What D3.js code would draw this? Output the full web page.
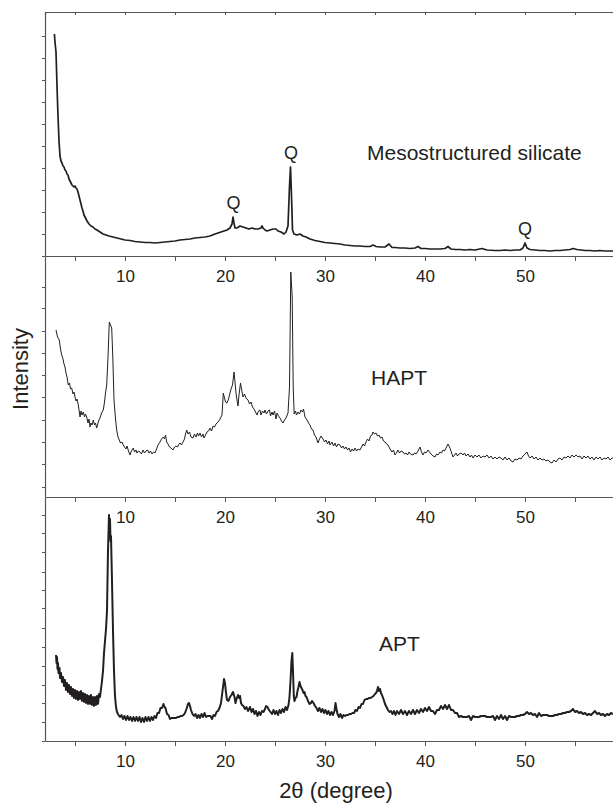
<!DOCTYPE html>
<html>
<head>
<meta charset="utf-8">
<style>
  body { margin: 0; background: #fff; }
  text { font-family: "Liberation Sans", Arial, sans-serif; fill: #231f20; }
</style>
</head>
<body>
<script src="https://d3js.org/d3.v7.min.js"></script>
<script>

// 2theta (deg) vs intensity (a.u.)
var meso = [[2.94,222],[3.0,214],[3.1,204],[3.2,170],[3.3,140],[3.4,115],[3.5,100],[3.6,95],[3.7,93],[3.8,90],[3.9,89],[4.0,86],[4.1,85],[4.2,82],[4.3,81],[4.4,77],[4.5,75],[4.6,73],[4.7,71],[4.8,70],[4.9,69],[5.0,70],[5.1,68],[5.2,67],[5.3,64],[5.4,60],[5.5,56],[5.6,52],[5.7,48],[5.8,45],[5.9,41],[6.0,39],[6.2,35],[6.4,32],[6.6,30],[6.8,29],[7.0,27],[7.2,26],[7.5,24],[7.8,22],[8.1,21],[8.4,20],[8.8,19],[9.2,18],[9.6,17],[10.0,16],[10.5,15.5],[11,14.5],[11.5,14],[12,13.5],[12.5,13.5],[13,13],[13.5,13.5],[14,14],[14.5,14.5],[15,15],[15.5,16],[16,16.5],[16.5,17],[17,18],[17.5,18.5],[18,19],[18.5,20],[19,22],[19.3,23],[19.6,24],[19.9,25],[20.2,26],[20.5,28],[20.7,32],[20.8,39],[20.9,33],[21.0,28],[21.2,28],[21.5,30],[21.8,29],[22.1,28],[22.4,27],[22.7,28],[23.0,27],[23.3,27],[23.6,28],[23.7,30],[23.8,28],[24.0,26],[24.2,25],[24.5,26],[24.8,27],[25.1,27],[25.3,25],[25.6,24],[25.9,22],[26.1,24],[26.3,30],[26.45,70],[26.55,89],[26.65,60],[26.75,26],[26.9,22],[27.2,21],[27.5,22],[27.8,20],[28.1,19],[28.5,17],[29,15.5],[29.5,14.5],[30,13.5],[30.5,13],[31,12.5],[31.5,12],[32,11],[32.5,10.5],[33,10],[33.5,10],[34,9.5],[34.5,9.5],[34.8,11],[35.1,9.5],[35.5,9],[36,9],[36.4,12],[36.7,8.5],[37,8.5],[37.5,8],[38,8],[38.5,7.5],[39,8],[39.3,9.5],[39.6,7.5],[40,7.5],[40.5,7],[41,7],[41.5,7],[42,7.5],[42.3,9.5],[42.6,7],[43,6.5],[43.5,6.5],[44,6],[44.5,6.5],[45,6],[45.7,7.5],[46.2,6],[47,5.5],[47.5,5.5],[48,6],[48.5,5.5],[49,6],[49.5,6],[49.8,8],[50.0,13],[50.2,8],[50.5,6.5],[51,6],[51.5,5.5],[52,5.5],[52.5,5],[53,5.5],[53.5,5.5],[54,6],[54.5,6.5],[54.8,7.5],[55.2,6.5],[55.6,6],[56,5.5],[56.5,5.5],[57,5],[57.5,5.5],[58,5],[58.5,5],[58.8,5]];

var hapt = [[3.1,167],[3.25,160],[3.43,157],[3.55,148],[3.67,142],[3.8,138],[3.9,133],[4.0,130],[4.1,124],[4.2,120],[4.33,112],[4.45,114],[4.55,108],[4.67,109],[4.8,103],[4.9,105],[5.0,100],[5.1,96],[5.2,98],[5.33,92],[5.42,86],[5.5,80],[5.6,86],[5.7,82],[5.83,85],[5.95,80],[6.05,83],[6.17,80],[6.3,74],[6.4,78],[6.5,70],[6.6,74],[6.7,72],[6.83,77],[6.95,72],[7.05,74],[7.17,69],[7.3,74],[7.4,77],[7.5,79],[7.65,84],[7.83,87],[7.95,95],[8.05,104],[8.17,112],[8.3,140],[8.43,175],[8.55,172],[8.67,169],[8.78,140],[8.9,97],[9.05,78],[9.17,67],[9.3,60],[9.43,57],[9.55,54],[9.7,55],[9.83,52],[9.95,50],[10.1,48],[10.2,51],[10.35,46],[10.5,42],[10.6,45],[10.7,47],[10.83,49],[10.95,45],[11.1,47],[11.2,44],[11.35,46],[11.5,45],[11.65,43],[11.8,47],[11.95,44],[12.1,46],[12.25,47],[12.4,44],[12.55,46],[12.7,43],[12.85,45],[13.0,44],[13.15,48],[13.3,52],[13.5,55],[13.65,58],[13.83,60],[13.95,58],[14.05,62],[14.17,55],[14.3,53],[14.45,50],[14.6,49],[14.8,47],[14.95,50],[15.1,51],[15.25,50],[15.4,53],[15.5,54],[15.65,52],[15.8,55],[15.95,58],[16.05,63],[16.17,67],[16.3,63],[16.45,65],[16.6,60],[16.8,59],[16.95,63],[17.1,60],[17.25,64],[17.35,61],[17.5,64],[17.65,60],[17.8,63],[17.9,59],[18.05,62],[18.2,65],[18.35,66],[18.5,69],[18.65,66],[18.8,71],[18.95,70],[19.1,73],[19.3,75],[19.45,77],[19.6,80],[19.7,82],[19.83,104],[19.95,99],[20.05,95],[20.2,94],[20.35,98],[20.5,104],[20.6,108],[20.75,112],[20.9,125],[21.0,115],[21.1,104],[21.2,97],[21.3,91],[21.4,102],[21.55,114],[21.65,108],[21.8,100],[21.95,103],[22.1,99],[22.3,97],[22.45,93],[22.6,95],[22.75,90],[22.9,88],[23.05,85],[23.2,82],[23.35,86],[23.5,87],[23.6,82],[23.75,86],[23.9,84],[24.0,87],[24.15,83],[24.3,86],[24.45,87],[24.55,81],[24.7,85],[24.8,82],[24.95,86],[25.1,78],[25.2,84],[25.35,81],[25.5,79],[25.65,76],[25.8,74],[25.95,77],[26.1,79],[26.3,84],[26.45,110],[26.58,225],[26.72,200],[26.82,110],[26.92,83],[27.05,86],[27.15,82],[27.3,85],[27.45,83],[27.6,87],[27.75,85],[27.85,88],[28.0,80],[28.2,77],[28.35,74],[28.5,72],[28.65,68],[28.8,67],[28.95,62],[29.1,60],[29.3,54],[29.45,58],[29.6,61],[29.8,58],[29.95,55],[30.1,57],[30.25,53],[30.4,56],[30.5,52],[30.7,55],[30.85,51],[31.0,54],[31.15,50],[31.3,53],[31.5,52],[31.65,49],[31.8,51],[31.95,48],[32.1,50],[32.25,47],[32.4,49],[32.55,45],[32.7,48],[32.85,46],[33.0,49],[33.15,46],[33.3,48],[33.5,47],[33.65,50],[33.8,53],[33.95,51],[34.1,55],[34.25,58],[34.4,56],[34.55,61],[34.7,62],[34.8,65],[34.95,63],[35.1,64],[35.25,61],[35.4,62],[35.55,59],[35.7,60],[35.85,56],[36.0,55],[36.15,53],[36.3,52],[36.5,48],[36.7,45],[36.85,47],[37.0,42],[37.15,44],[37.3,47],[37.45,44],[37.6,46],[37.8,45],[37.95,43],[38.1,44],[38.25,42],[38.4,45],[38.55,43],[38.8,42],[38.95,44],[39.1,43],[39.3,46],[39.5,50],[39.65,45],[39.8,42],[39.95,45],[40.1,44],[40.3,47],[40.45,45],[40.6,43],[40.8,41],[41.0,40],[41.15,43],[41.3,42],[41.5,45],[41.65,44],[41.8,47],[41.95,46],[42.1,49],[42.3,53],[42.45,50],[42.6,46],[42.8,40],[42.95,42],[43.1,44],[43.25,41],[43.4,43],[43.6,44],[43.8,42],[43.95,44],[44.1,41],[44.3,43],[44.5,40],[44.65,42],[44.8,39],[45.0,42],[45.2,40],[45.4,42],[45.6,39],[45.8,41],[46.0,40],[46.2,42],[46.4,39],[46.6,41],[46.8,38],[47.0,40],[47.2,38],[47.4,40],[47.6,39],[47.8,37],[48.0,40],[48.2,37],[48.4,39],[48.6,36],[48.8,35],[49.0,38],[49.2,37],[49.4,39],[49.6,38],[49.8,41],[50.0,43],[50.2,45],[50.35,41],[50.5,39],[50.7,41],[50.9,38],[51.1,40],[51.3,37],[51.5,39],[51.7,37],[51.9,38],[52.1,36],[52.3,37],[52.5,35],[52.7,34],[52.9,37],[53.1,35],[53.3,38],[53.5,39],[53.7,37],[53.9,40],[54.1,39],[54.3,41],[54.5,39],[54.7,42],[54.9,40],[55.1,42],[55.3,40],[55.5,41],[55.7,38],[55.9,41],[56.1,39],[56.3,41],[56.5,38],[56.7,40],[56.9,37],[57.1,40],[57.3,38],[57.5,40],[57.7,37],[57.9,39],[58.1,38],[58.3,40],[58.5,37],[58.7,39],[58.8,39]];

var apt = [[3.1,86],[3.15,78],[3.2,84],[3.25,72],[3.3,78],[3.35,68],[3.45,73],[3.5,63],[3.6,68],[3.7,59],[3.8,64],[3.9,55],[4.0,61],[4.1,51],[4.2,58],[4.3,49],[4.4,56],[4.5,47],[4.6,54],[4.7,45],[4.8,52],[4.9,43],[5.0,51],[5.1,42],[5.2,50],[5.3,41],[5.4,49],[5.5,42],[5.6,50],[5.7,40],[5.8,48],[5.9,39],[6.0,47],[6.1,38],[6.2,46],[6.3,37],[6.4,45],[6.5,37],[6.6,46],[6.7,36],[6.8,44],[6.9,35],[7.0,44],[7.1,36],[7.2,45],[7.3,37],[7.4,47],[7.5,44],[7.6,52],[7.7,60],[7.8,70],[7.9,88],[8.0,100],[8.1,112],[8.2,130],[8.3,190],[8.4,226],[8.45,215],[8.5,222],[8.55,200],[8.6,205],[8.7,160],[8.8,110],[8.9,70],[9.0,45],[9.1,34],[9.2,29],[9.35,26],[9.5,24],[9.65,26],[9.8,22],[9.95,25],[10.1,21],[10.25,25],[10.4,21],[10.55,24],[10.7,20],[10.85,24],[11.0,20],[11.15,24],[11.3,20],[11.45,24],[11.6,19],[11.75,23],[11.9,19],[12.05,24],[12.2,20],[12.35,24],[12.5,20],[12.65,24],[12.8,21],[12.95,25],[13.1,23],[13.25,28],[13.4,28],[13.55,33],[13.7,33],[13.85,37],[13.95,34],[14.05,33],[14.2,27],[14.35,26],[14.5,22],[14.65,23],[14.8,23],[14.95,23],[15.1,23],[15.25,24],[15.4,24],[15.55,25],[15.7,25],[15.85,26],[16.0,28],[16.15,32],[16.3,37],[16.4,38],[16.5,35],[16.6,31],[16.75,27],[16.9,25],[17.05,27],[17.2,23],[17.35,26],[17.5,23],[17.65,27],[17.8,24],[17.95,28],[18.1,24],[18.25,25],[18.4,25],[18.55,25],[18.7,22],[18.85,26],[19.0,25],[19.15,29],[19.3,30],[19.45,33],[19.6,38],[19.75,50],[19.9,62],[20.0,58],[20.1,48],[20.2,41],[20.35,40],[20.5,44],[20.65,46],[20.8,49],[20.95,44],[21.05,38],[21.15,42],[21.3,46],[21.4,43],[21.5,45],[21.6,38],[21.7,36],[21.85,35],[22.0,32],[22.15,34],[22.3,30],[22.5,34],[22.65,29],[22.8,32],[22.95,27],[23.1,30],[23.25,25],[23.4,29],[23.55,26],[23.7,30],[23.85,29],[24.0,32],[24.1,35],[24.25,34],[24.4,31],[24.55,29],[24.7,27],[24.85,31],[25.0,27],[25.15,30],[25.3,26],[25.45,31],[25.6,28],[25.75,32],[25.9,29],[26.05,34],[26.2,31],[26.35,36],[26.45,44],[26.55,60],[26.65,80],[26.73,88],[26.8,70],[26.88,45],[26.95,40],[27.05,43],[27.15,44],[27.25,50],[27.35,54],[27.45,59],[27.55,55],[27.65,53],[27.75,51],[27.85,48],[27.95,49],[28.05,45],[28.15,44],[28.3,40],[28.45,37],[28.6,38],[28.7,40],[28.85,38],[29.0,35],[29.15,33],[29.3,30],[29.45,33],[29.6,29],[29.75,32],[29.9,28],[30.05,31],[30.2,27],[30.35,30],[30.5,26],[30.65,29],[30.8,26],[30.95,30],[31.05,38],[31.15,32],[31.25,27],[31.4,24],[31.55,27],[31.7,23],[31.85,26],[32.0,25],[32.15,26],[32.3,26],[32.45,27],[32.6,27],[32.75,28],[32.9,28],[33.05,31],[33.2,30],[33.35,34],[33.5,33],[33.65,37],[33.8,37],[33.95,41],[34.1,42],[34.25,42],[34.4,43],[34.55,43],[34.7,44],[34.85,45],[35.0,47],[35.1,48],[35.2,50],[35.3,54],[35.4,50],[35.5,52],[35.6,48],[35.7,46],[35.85,42],[36.0,37],[36.15,34],[36.3,31],[36.45,29],[36.6,30],[36.75,27],[36.9,30],[37.05,26],[37.2,30],[37.4,27],[37.6,31],[37.8,27],[38.0,30],[38.2,26],[38.4,30],[38.6,27],[38.8,31],[39.0,27],[39.2,31],[39.4,28],[39.6,32],[39.8,29],[40.0,33],[40.2,30],[40.4,34],[40.6,30],[40.8,30],[41.0,27],[41.2,31],[41.4,31],[41.6,35],[41.8,32],[42.0,36],[42.2,32],[42.4,36],[42.6,31],[42.8,31],[43.0,28],[43.2,28],[43.4,24],[43.6,25],[43.8,24],[44.0,24],[44.2,24],[44.4,25],[44.6,21],[44.8,25],[45.0,24],[45.2,24],[45.4,24],[45.6,25],[45.8,25],[46.0,25],[46.2,24],[46.4,24],[46.6,24],[46.8,25],[47.0,21],[47.2,25],[47.4,22],[47.6,26],[47.8,22],[48.0,25],[48.2,21],[48.4,25],[48.6,24],[48.8,24],[49.0,24],[49.2,25],[49.4,25],[49.6,26],[49.8,26],[50.0,27],[50.2,29],[50.4,27],[50.6,28],[50.8,26],[51.0,27],[51.2,24],[51.4,28],[51.6,25],[51.8,26],[52.0,26],[52.2,26],[52.4,25],[52.6,25],[52.8,25],[53.0,26],[53.2,26],[53.4,27],[53.6,27],[53.8,28],[54.0,28],[54.2,29],[54.4,29],[54.6,30],[54.8,32],[55.0,29],[55.2,30],[55.4,28],[55.6,29],[55.8,27],[56.0,28],[56.2,26],[56.4,27],[56.6,26],[56.8,28],[57.0,30],[57.2,27],[57.4,28],[57.6,26],[57.8,27],[58.0,25],[58.2,27],[58.4,26],[58.6,28],[58.8,27]];

var xTicks = [5, 10, 15, 20, 25, 30, 35, 40, 45, 50, 55];
var topTicks = [0, 22, 44, 66, 88, 110, 132, 154, 176, 198, 220];
var midTicks = [10, 33, 55, 77, 100, 122, 144, 166, 189, 210];
var botTicks = [0, 19, 38, 56, 75, 94, 113, 133, 151, 169, 189, 208, 226];

// quartz reflections marked on the top pattern
var qPeaks = [[20.85, 39], [26.6, 89], [50.0, 13]];

var width = 613, height = 805;
var left = 45, right = 613;
var axisColor = "#555", ink = "#231f20";

var svg = d3.select("body").append("svg")
    .attr("width", width)
    .attr("height", height);

var x = d3.scaleLinear().domain([2, 58.8]).range([left, right]);

var panels = [
    { data: meso, top: 12, bottom: 256, max: 244, ticks: topTicks, sw: 1.7,
      label: "Mesostructured silicate", lx: 367, ly: 160 },
    { data: hapt, top: 256, bottom: 497, max: 241, ticks: midTicks, sw: 1,
      label: "HAPT", lx: 371, ly: 385 },
    { data: apt, top: 497, bottom: 741, max: 244, ticks: botTicks, sw: 2,
      label: "APT", lx: 379, ly: 651 }
];

// top frame line with small inward ticks
var topAxis = svg.append("g")
    .attr("transform", "translate(0,12)")
    .call(d3.axisTop(x).tickValues(xTicks).tickSize(-3).tickFormat(""));
topAxis.select(".domain").attr("stroke", axisColor).attr("stroke-width", 1.2);
topAxis.selectAll(".tick line").attr("stroke", axisColor);

panels.forEach(function(p) {
    var y = d3.scaleLinear().domain([0, p.max]).range([p.bottom, p.top]);

    var line = d3.line()
        .x(function(d) { return x(d[0]); })
        .y(function(d) { return y(d[1]); });

    svg.append("path")
        .datum(p.data)
        .attr("fill", "none")
        .attr("stroke", ink)
        .attr("stroke-width", p.sw)
        .attr("stroke-linejoin", "round")
        .attr("d", line);

    var ya = svg.append("g")
        .attr("transform", "translate(" + left + ",0)")
        .call(d3.axisLeft(y).tickValues(p.ticks).tickSize(3).tickFormat("").tickSizeOuter(0));
    ya.select(".domain").attr("stroke", axisColor).attr("stroke-width", 1.2);
    ya.selectAll(".tick line").attr("stroke", axisColor);

    var xa = svg.append("g")
        .attr("transform", "translate(0," + p.bottom + ")")
        .call(d3.axisBottom(x).tickValues(xTicks).tickSize(5).tickPadding(9).tickSizeOuter(0)
            .tickFormat(function(d) { return d % 10 === 0 ? d : ""; }));
    xa.select(".domain").attr("stroke", axisColor).attr("stroke-width", 1.2);
    xa.selectAll(".tick line").attr("stroke", axisColor);
    xa.selectAll(".tick text")
        .style("font-family", "Liberation Sans, Arial, sans-serif")
        .style("font-size", "17px")
        .attr("fill", ink);

    svg.append("text")
        .attr("x", p.lx)
        .attr("y", p.ly)
        .style("font-size", "21px")
        .text(p.label);

    if (p.data === meso) {
        svg.selectAll(".q")
            .data(qPeaks)
            .enter().append("text")
            .attr("class", "q")
            .attr("x", function(d) { return x(d[0]); })
            .attr("y", function(d) { return y(d[1]) - 8; })
            .attr("text-anchor", "middle")
            .style("font-size", "18px")
            .text("Q");
    }
});

svg.append("text")
    .attr("transform", "translate(28,369) rotate(-90)")
    .attr("text-anchor", "middle")
    .style("font-size", "22px")
    .text("Intensity");

svg.append("text")
    .attr("x", 336)
    .attr("y", 798)
    .attr("text-anchor", "middle")
    .style("font-size", "22px")
    .text("2θ (degree)");

</script>
</body>
</html>
